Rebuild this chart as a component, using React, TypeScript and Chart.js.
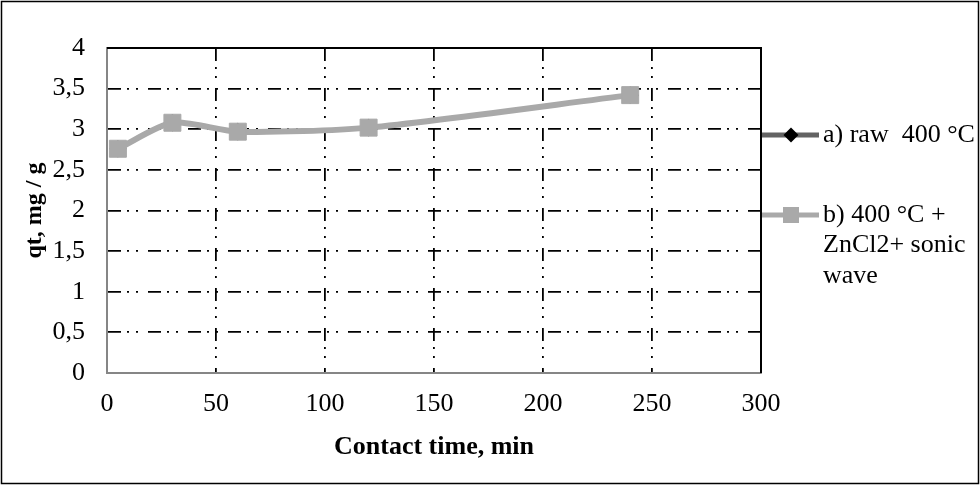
import React, { useEffect, useRef } from "react";
import { Chart, registerables } from "chart.js";

Chart.register(...registerables);

const contactTime = [5, 30, 60, 120, 240];
const rawValues = [2.76, 3.08, 2.97, 3.02, 3.42];
const sonicValues = [2.76, 3.08, 2.97, 3.02, 3.42];
const rawLabel = ["a) raw  400 °C"];
const sonicLabel = ["b) 400 °C +", "ZnCl2+ sonic", "wave"];
const xAxisTitle = "Contact time, min";
const yAxisTitle = "qt, mg / g";
const xMin = 0, xMax = 300, xStep = 50;
const yMin = 0, yMax = 4, yStep = 0.5;

const SERIF = "'Liberation Serif', 'Times New Roman', serif";
const GRID_DASH = [13, 6, 2, 7, 2, 10];

const framePlugin = {
  id: "framePlugin",
  beforeDraw(chart: any) {
    const ctx = chart.ctx;
    ctx.save();
    ctx.fillStyle = "#ffffff";
    ctx.fillRect(0, 0, chart.width, chart.height);
    ctx.restore();
  },
  afterDraw(chart: any) {
    const ctx = chart.ctx;
    const a = chart.chartArea;
    ctx.save();
    ctx.strokeStyle = "#000000";
    ctx.lineWidth = 2;
    ctx.beginPath();
    ctx.moveTo(a.left, a.top);
    ctx.lineTo(a.right, a.top);
    ctx.lineTo(a.right, a.bottom);
    ctx.stroke();

    const entries = [
      { ds: chart.data.datasets[0], lines: rawLabel, cy: a.top + 87, marker: "diamond" },
      { ds: chart.data.datasets[1], lines: sonicLabel, cy: a.top + 167, marker: "square" },
    ];
    const x0 = a.right + 1;
    for (const e of entries) {
      ctx.strokeStyle = e.ds.borderColor;
      ctx.lineWidth = 5;
      ctx.lineCap = "butt";
      ctx.beginPath();
      ctx.moveTo(x0, e.cy);
      ctx.lineTo(x0 + 57, e.cy);
      ctx.stroke();
      const mx = x0 + 29;
      ctx.fillStyle = e.ds.pointBackgroundColor;
      if (e.marker === "diamond") {
        const r = 7.5;
        ctx.beginPath();
        ctx.moveTo(mx, e.cy - r);
        ctx.lineTo(mx + r, e.cy);
        ctx.lineTo(mx, e.cy + r);
        ctx.lineTo(mx - r, e.cy);
        ctx.closePath();
        ctx.fill();
      } else {
        const s = 8;
        ctx.fillRect(mx - s, e.cy - s, 2 * s, 2 * s);
      }
      ctx.fillStyle = "#000000";
      ctx.font = "26px " + SERIF;
      ctx.textAlign = "left";
      ctx.textBaseline = "middle";
      e.lines.forEach((t: string, i: number) => {
        ctx.fillText(t, x0 + 61, e.cy + i * 30.5);
      });
    }

    ctx.strokeStyle = "#000000";
    ctx.lineWidth = 1.5;
    ctx.strokeRect(1.5, 1.5, chart.width - 3, chart.height - 3);
    ctx.restore();
  },
};

export default function App() {
  const canvasRef = useRef<HTMLCanvasElement | null>(null);

  useEffect(() => {
    const canvas = canvasRef.current;
    if (!canvas) return;
    const chart = new Chart(canvas, {
      type: "line",
      data: {
        datasets: [
          {
            label: rawLabel.join(" "),
            data: contactTime.map((x, i) => ({ x, y: rawValues[i] })),
            borderColor: "#636363",
            backgroundColor: "#000000",
            pointBackgroundColor: "#000000",
            pointBorderColor: "#000000",
            pointStyle: "rectRot",
            pointRadius: 6,
            borderWidth: 4,
            tension: 0.25,
            order: 2,
          },
          {
            label: sonicLabel.join(" "),
            data: contactTime.map((x, i) => ({ x, y: sonicValues[i] })),
            borderColor: "#a9a9a9",
            backgroundColor: "#a9a9a9",
            pointBackgroundColor: "#a9a9a9",
            pointBorderColor: "#a9a9a9",
            pointStyle: "rect",
            pointRadius: 12,
            pointBorderWidth: 1,
            borderWidth: 6,
            tension: 0.25,
            order: 1,
          },
        ],
      },
      plugins: [framePlugin],
      options: {
        animation: false,
        responsive: false,
        maintainAspectRatio: false,
        events: [],
        layout: { padding: { top: 48, right: 219, left: 0, bottom: 0 } },
        plugins: {
          legend: { display: false },
          tooltip: { enabled: false },
          title: { display: false },
        },
        scales: {
          x: {
            type: "linear",
            min: xMin,
            max: xMax,
            ticks: {
              stepSize: xStep,
              color: "#000000",
              font: { family: SERIF, size: 26 },
              padding: 16,
              maxRotation: 0,
            },
            grid: {
              color: "#000000",
              lineWidth: 1.8,
              drawTicks: false,
            },
            border: { display: true, color: "#868686", width: 2, dash: GRID_DASH },
            title: {
              display: true,
              text: xAxisTitle,
              color: "#000000",
              font: { family: SERIF, size: 26, weight: "bold" },
              padding: { top: 0, bottom: 22 },
            },
            afterFit: (s: any) => {
              s.height = 112;
            },
          },
          y: {
            type: "linear",
            min: yMin,
            max: yMax,
            ticks: {
              stepSize: yStep,
              color: "#000000",
              font: { family: SERIF, size: 26 },
              padding: 22,
              callback: (v: any) => String(v).replace(".", ","),
            },
            grid: {
              color: "#000000",
              lineWidth: 1.8,
              drawTicks: false,
            },
            border: { display: true, color: "#868686", width: 2, dash: GRID_DASH },
            title: {
              display: true,
              text: yAxisTitle,
              color: "#000000",
              font: { family: SERIF, size: 24, weight: "bold" },
              padding: { top: 20, bottom: 0 },
            },
            afterFit: (s: any) => {
              s.width = 107;
            },
          },
        },
      },
    } as any);
    return () => chart.destroy();
  }, []);

  return (
    <div style={{ position: "absolute", left: 0, top: 0, width: 980, height: 485 }}>
      <canvas ref={canvasRef} width={980} height={485} style={{ display: "block" }} />
    </div>
  );
}
